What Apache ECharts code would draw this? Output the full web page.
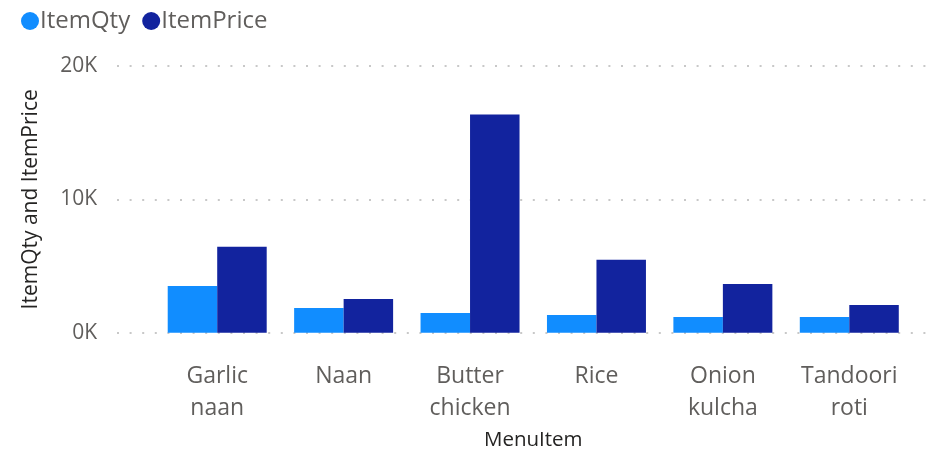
<!DOCTYPE html>
<html>
<head>
<meta charset="utf-8">
<script src="https://cdn.jsdelivr.net/npm/echarts@6/dist/echarts.min.js"></script>
<style>html,body{margin:0;padding:0;background:#fff}#c{width:936px;height:450px}</style>
</head>
<body>
<div id="c"></div>
<script>
const categories = ["Garlic\nnaan", "Naan", "Butter\nchicken", "Rice", "Onion\nkulcha", "Tandoori\nroti"];
const itemQty = [3510, 1860, 1480, 1330, 1180, 1180];
const itemPrice = [6440, 2530, 16370, 5470, 3660, 2080];
const yTicks = [0, 10000, 20000];

const FONT = '"Segoe UI", "Open Sans", sans-serif';
const chart = echarts.init(document.getElementById('c'), null, {renderer: 'canvas'});
chart.setOption({
  animation: false,
  textStyle: {fontFamily: FONT},
  legend: {
    left: 16, top: 4,
    icon: 'circle', itemWidth: 18, itemHeight: 18, itemGap: 12,
    textStyle: {fontSize: 24, color: '#605E5C', fontFamily: FONT, padding: [0, 0, 0, -4]},
    data: ['ItemQty', 'ItemPrice']
  },
  grid: [
    {left: 117, right: 1, top: 66, bottom: 117.3, containLabel: false, outerBoundsMode: 'none'},
    {left: 154, right: 23.5, top: 66, bottom: 117.3, containLabel: false, outerBoundsMode: 'none'}
  ],
  xAxis: [
    {gridIndex: 0, type: 'category', data: categories, show: false},
    {
      gridIndex: 1, type: 'category', data: categories,
      axisLine: {show: false}, axisTick: {show: false},
      axisLabel: {fontSize: 23, lineHeight: 32, color: '#605E5C', margin: 28, interval: 0},
      name: 'MenuItem', nameLocation: 'middle', nameGap: 93,
      nameTextStyle: {fontSize: 20.5, color: '#252423'}
    }
  ],
  yAxis: [
    {
      gridIndex: 0, type: 'value', min: yTicks[0], max: yTicks[yTicks.length - 1], interval: 10000,
      axisLine: {show: false}, axisTick: {show: false},
      axisLabel: {fontSize: 21, color: '#605E5C', margin: 20, formatter: v => (v / 1000) + 'K'},
      splitLine: {show: true, lineStyle: {color: '#C8C8C8', width: 2, type: [2, 10.6]}},
      name: 'ItemQty and ItemPrice', nameLocation: 'middle', nameGap: 75,
      nameTextStyle: {fontSize: 21, color: '#252423'}
    },
    {
      gridIndex: 1, type: 'value', min: yTicks[0], max: yTicks[yTicks.length - 1], interval: 10000,
      show: false, splitLine: {show: false}
    }
  ],
  series: [
    {name: 'ItemQty', type: 'bar', xAxisIndex: 1, yAxisIndex: 1, data: itemQty,
     itemStyle: {color: '#118DFF'}, barGap: '0%', barCategoryGap: '21.7%'},
    {name: 'ItemPrice', type: 'bar', xAxisIndex: 1, yAxisIndex: 1, data: itemPrice,
     itemStyle: {color: '#12239E'}, barGap: '0%', barCategoryGap: '21.7%'}
  ]
});
</script>
</body>
</html>
